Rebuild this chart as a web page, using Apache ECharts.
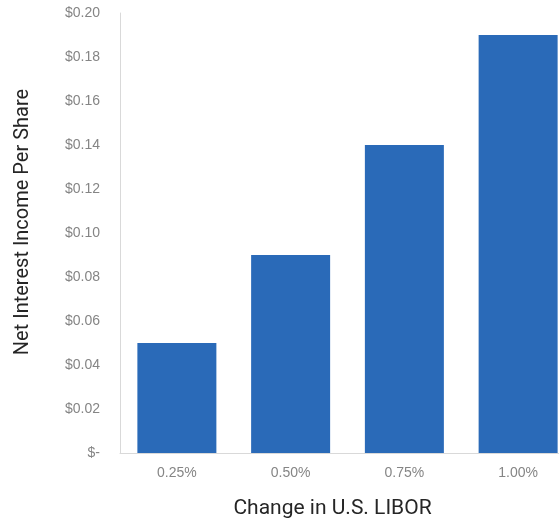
<!DOCTYPE html>
<html>
<head>
<meta charset="utf-8">
<script src="https://cdn.jsdelivr.net/npm/echarts@6/dist/echarts.min.js"></script>
<style>html,body{margin:0;padding:0;background:#fff}#c{width:559px;height:523px}</style>
</head>
<body>
<div id="c"></div>
<script>
var categories = ['0.25%', '0.50%', '0.75%', '1.00%'];
var values = [0.05, 0.09, 0.14, 0.19];
var chart = echarts.init(document.getElementById('c'));
chart.setOption({
  animation: false,
  grid: { left: 120, top: 13, width: 455, height: 440, outerBoundsMode: 'none', containLabel: false },
  xAxis: {
    type: 'category', data: categories,
    name: 'Change in U.S. LIBOR', nameLocation: 'middle', nameGap: 45,
    nameTextStyle: { color: '#262626', fontSize: 21, fontFamily: 'Roboto', padding: [0, 30, 0, 0] },
    axisLine: { lineStyle: { color: '#d9d9d9', width: 1 } },
    axisTick: { show: false },
    axisLabel: { color: '#858585', fontSize: 14, fontFamily: 'Liberation Sans', margin: 13 }
  },
  yAxis: {
    type: 'value', min: 0, max: 0.2, interval: 0.02,
    name: 'Net Interest Income Per Share', nameLocation: 'middle', nameGap: 87,
    nameTextStyle: { color: '#262626', fontSize: 20, fontFamily: 'Roboto', padding: [0, 0, 0, 22] },
    axisLine: { show: true, lineStyle: { color: '#d9d9d9', width: 1 } },
    axisTick: { show: false },
    splitLine: { show: false },
    axisLabel: {
      color: '#858585', fontSize: 14, fontFamily: 'Liberation Sans', margin: 20,
      formatter: function (v) { return v === 0 ? '$-' : '$' + v.toFixed(2); }
    }
  },
  series: [{
    type: 'bar', data: values, barWidth: 79,
    itemStyle: { color: '#2a6ab8' }
  }]
});
</script>
</body>
</html>
